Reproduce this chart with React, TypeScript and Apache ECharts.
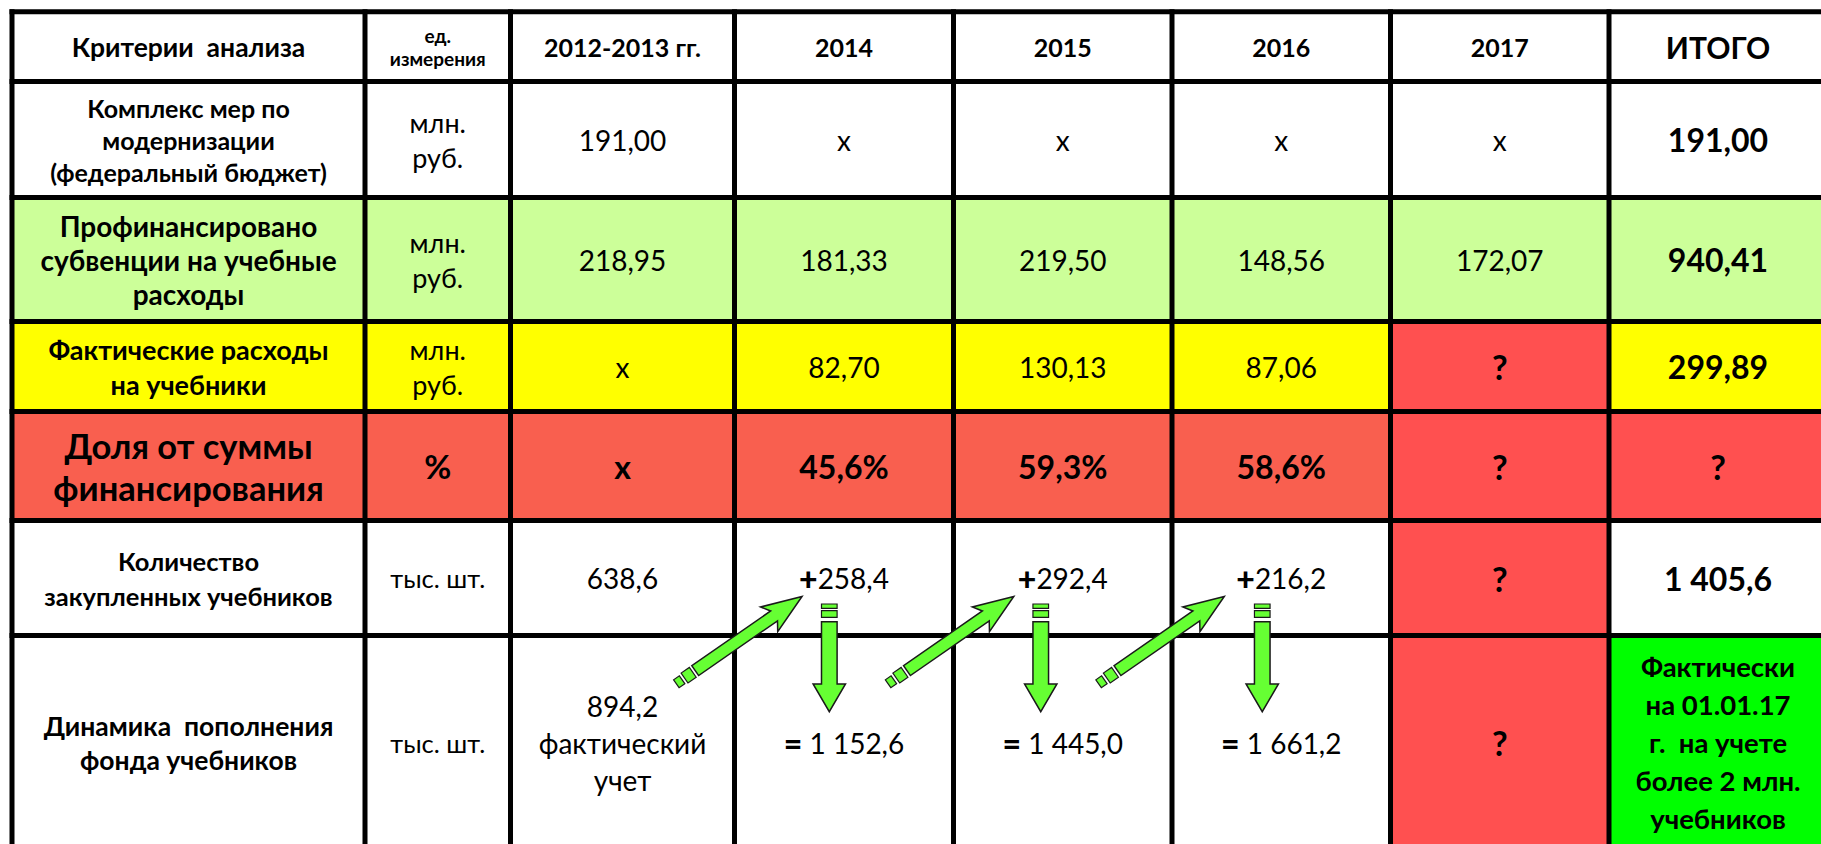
import React, { useEffect, useRef } from "react";
import * as echarts from "echarts";

// ---------- data ----------
const columnHeaders = ["Критерии  анализа", "ед.\nизмерения", "2012-2013 гг.", "2014", "2015", "2016", "2017", "ИТОГО"];
const criteria = [
  "Комплекс мер по\nмодернизации\n(федеральный бюджет)",
  "Профинансировано\nсубвенции на учебные\nрасходы",
  "Фактические расходы\nна учебники",
  "Доля от суммы\nфинансирования",
  "Количество\nзакупленных учебников",
  "Динамика  пополнения\nфонда учебников",
];
const units = ["млн.\nруб.", "млн.\nруб.", "млн.\nруб.", "%", "тыс. шт.", "тыс. шт."];
// values: 2012-2013, 2014, 2015, 2016, 2017, ИТОГО
const modernization = ["191,00", "x", "x", "x", "x", "191,00"];
const subsidies = ["218,95", "181,33", "219,50", "148,56", "172,07", "940,41"];
const textbookSpend = ["x", "82,70", "130,13", "87,06", "?", "299,89"];
const shareOfFunding = ["x", "45,6%", "59,3%", "58,6%", "?", "?"];
const purchased = ["638,6", "+258,4", "+292,4", "+216,2", "?", "1 405,6"];
const fundDynamics = ["894,2\nфактический\nучет", "= 1 152,6", "= 1 445,0", "= 1 661,2", "?", "Фактически\nна 01.01.17\nг.  на учете\nболее 2 млн.\nучебников"];
const valueRows = [modernization, subsidies, textbookSpend, shareOfFunding, purchased, fundDynamics];
const arrowColumns = [3, 4, 5];

// ---------- layout (axis units) ----------
const COL_EDGES = [12, 365, 510.5, 734.5, 953.5, 1172, 1390.5, 1609, 1827];
const ROW_EDGES = [11.7, 81.5, 197.5, 321.5, 411.5, 520.5, 635.5, 850];
const DOWN_OFF = [-14.7, -22, -19];
const DIAG_OFF = [-42, -49, -57];

const FONT = "Lato, 'Open Sans', sans-serif";
const RED = "#FF5050";

function cellText(row: number, col: number): string {
  if (row === 0) return columnHeaders[col];
  if (col === 0) return criteria[row - 1];
  if (col === 1) return units[row - 1];
  return valueRows[row - 1][col - 2];
}

function cellFill(row: number, col: number): string {
  if (row === 2) return "#CCFF99";
  if (row === 3) return col === 6 ? RED : "#FFFF00";
  if (row === 4) return col >= 6 ? RED : "#F95F4F";
  if (row === 5) return col === 6 ? RED : "#FFFFFF";
  if (row === 6) return col === 6 ? RED : col === 7 ? "#00FF00" : "#FFFFFF";
  return "#FFFFFF";
}

function cellFont(row: number, col: number, text: string) {
  if (row === 0) {
    if (col === 0) return { size: 26.5, bold: true, lh: 30 };
    if (col === 1) return { size: 19, bold: true, lh: 23 };
    if (col === 7) return { size: 30, bold: true, lh: 34 };
    return { size: 25, bold: true, lh: 30 };
  }
  if (col === 0) {
    const m: any = {
      1: { size: 25, bold: true, lh: 32 },
      2: { size: 28, bold: true, lh: 34 },
      3: { size: 27, bold: true, lh: 35 },
      4: { size: 34.5, bold: true, lh: 42 },
      5: { size: 25.5, bold: true, lh: 35 },
      6: { size: 26.5, bold: true, lh: 34 },
    };
    return m[row];
  }
  if (col === 1) {
    if (row === 4) return { size: 33, bold: true, lh: 36 };
    if (row >= 5) return { size: 25.5, bold: false, lh: 35 };
    return { size: 27, bold: false, lh: 35 };
  }
  if (text === "?") return { size: 34, bold: true, lh: 36 };
  if (col === 7) {
    if (row === 6) return { size: 27.5, bold: true, lh: 38 };
    return { size: 32, bold: true, lh: 36 };
  }
  if (row === 4) return { size: 32, bold: true, lh: 36 };
  return { size: 28, bold: false, lh: 37 };
}

const cellData: number[][] = [];
for (let r = 0; r < ROW_EDGES.length - 1; r++) {
  for (let c = 0; c < COL_EDGES.length - 1; c++) cellData.push([c, r]);
}
const borderData: number[][] = [
  ...ROW_EDGES.map((_, i) => [0, i]),
  ...COL_EDGES.map((_, i) => [1, i]),
];

export default function App() {
  const ref = useRef<HTMLDivElement>(null);
  useEffect(() => {
    if (!ref.current) return;
    const chart = echarts.init(ref.current, null, { renderer: "svg" });
    const lastC = COL_EDGES.length - 1;
    const lastR = ROW_EDGES.length - 1;

    const option: any = {
      animation: false,
      backgroundColor: "#FFFFFF",
      grid: { left: 0, right: 0, top: 0, bottom: 0 },
      xAxis: { type: "value", min: 0, max: 1821, show: false },
      yAxis: { type: "value", min: 0, max: 844, inverse: true, show: false },
      series: [
        {
          type: "custom",
          z: 1,
          data: cellData,
          renderItem: (params: any, api: any) => {
            const col = api.value(0);
            const row = api.value(1);
            const p0 = api.coord([COL_EDGES[col], ROW_EDGES[row]]);
            const p1 = api.coord([COL_EDGES[col + 1], ROW_EDGES[row + 1]]);
            const text = cellText(row, col);
            const f = cellFont(row, col, text);
            let display = text;
            const rich: any = {
              b: { fontSize: f.size + 4, fontWeight: 900, fontFamily: FONT, fill: "#000" },
              n: { fontSize: f.size, fontWeight: "normal", fontFamily: FONT, fill: "#000" },
            };
            if (row >= 5 && col >= 3 && col <= 5) {
              if (text.startsWith("+")) display = "{b|+}{n|" + text.slice(1) + "}";
              else if (text.startsWith("=")) display = "{b|=}{n|" + text.slice(1) + "}";
            }
            return {
              type: "group",
              children: [
                {
                  type: "rect",
                  shape: { x: p0[0], y: p0[1], width: p1[0] - p0[0], height: p1[1] - p0[1] },
                  style: { fill: cellFill(row, col) },
                },
                {
                  type: "text",
                  x: (p0[0] + p1[0]) / 2,
                  y: (p0[1] + p1[1]) / 2,
                  style: {
                    text: display,
                    rich,
                    fontSize: f.size,
                    fontWeight: f.bold ? "bold" : "normal",
                    fontFamily: FONT,
                    lineHeight: f.lh,
                    fill: "#000",
                    align: "center",
                    verticalAlign: "middle",
                  },
                },
              ],
            };
          },
        },
        {
          type: "custom",
          z: 2,
          data: borderData,
          renderItem: (params: any, api: any) => {
            const kind = api.value(0);
            const i = api.value(1);
            let a, b;
            if (kind === 0) {
              a = api.coord([COL_EDGES[0], ROW_EDGES[i]]);
              b = api.coord([COL_EDGES[lastC], ROW_EDGES[i]]);
            } else {
              a = api.coord([COL_EDGES[i], ROW_EDGES[0]]);
              b = api.coord([COL_EDGES[i], ROW_EDGES[lastR]]);
            }
            return {
              type: "line",
              shape: { x1: a[0], y1: a[1], x2: b[0], y2: b[1] },
              style: { stroke: "#000", lineWidth: 5, lineCap: "square" },
            };
          },
        },
        {
          type: "custom",
          z: 3,
          data: arrowColumns.map((c, k) => [c, k]),
          renderItem: (params: any, api: any) => {
            const col = api.value(0);
            const k = api.value(1);
            const center = (COL_EDGES[col] + COL_EDGES[col + 1]) / 2;
            const rowLine = ROW_EDGES[6];
            const green = "#66FF33";
            const stroke = "#1A1A1A";
            // down arrow
            const dTop = api.coord([center + DOWN_OFF[k], rowLine - 31.5]);
            const cx = dTop[0];
            const ty = dTop[1];
            const sw = 7.8;
            const hw = 16.2;
            const down = [
              { type: "rect", shape: { x: cx - sw, y: ty, width: sw * 2, height: 4.3 }, style: { fill: green, stroke, lineWidth: 1.2 } },
              { type: "rect", shape: { x: cx - sw, y: ty + 6.7, width: sw * 2, height: 6.6 }, style: { fill: green, stroke, lineWidth: 1.2 } },
              {
                type: "polygon",
                shape: {
                  points: [
                    [cx - sw, ty + 17.7], [cx + sw, ty + 17.7], [cx + sw, ty + 80],
                    [cx + hw, ty + 80], [cx, ty + 107.7], [cx - hw, ty + 80], [cx - sw, ty + 80],
                  ],
                },
                style: { fill: green, stroke, lineWidth: 1.5 },
              },
            ];
            // diagonal arrow
            const tip = api.coord([center + DIAG_OFF[k], rowLine - 39]);
            const ux = -0.8213, uy = 0.5703; // toward tail
            const nx = 0.5703, ny = 0.8213;
            const P = (s: number, t: number) => [tip[0] + s * ux + t * nx, tip[1] + s * uy + t * ny];
            const w = 6;
            const diag = [
              {
                type: "polygon",
                shape: { points: [P(0, 0), P(40, 15), P(34, w), P(130, w), P(130, -w), P(34, -w), P(40, -15)] },
                style: { fill: green, stroke, lineWidth: 1.5 },
              },
              {
                type: "polygon",
                shape: { points: [P(133, w), P(143, w), P(143, -w), P(133, -w)] },
                style: { fill: green, stroke, lineWidth: 1.2 },
              },
              {
                type: "polygon",
                shape: { points: [P(146, w * 0.8), P(153, w * 0.8), P(153, -w * 0.8), P(146, -w * 0.8)] },
                style: { fill: green, stroke, lineWidth: 1.2 },
              },
            ];
            return { type: "group", children: [...down, ...diag] };
          },
        },
      ],
    };
    chart.setOption(option);
    return () => chart.dispose();
  }, []);
  return (
    <div
      ref={ref}
      style={{ position: "fixed", left: 0, top: 0, width: 1821, height: 844, background: "#fff" }}
    />
  );
}
